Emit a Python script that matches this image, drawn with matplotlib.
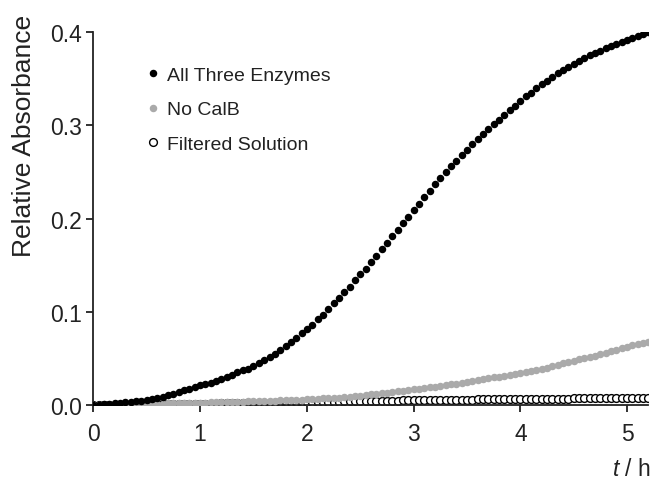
import matplotlib as mpl
mpl.use('Agg')
import matplotlib.pyplot as plt

# sampling times (h), one reading every 3 min
time_h = [
    0.00, 0.05, 0.10, 0.15, 0.20, 0.25, 0.30, 0.35, 0.40, 0.45,
    0.50, 0.55, 0.60, 0.65, 0.70, 0.75, 0.80, 0.85, 0.90, 0.95,
    1.00, 1.05, 1.10, 1.15, 1.20, 1.25, 1.30, 1.35, 1.40, 1.45,
    1.50, 1.55, 1.60, 1.65, 1.70, 1.75, 1.80, 1.85, 1.90, 1.95,
    2.00, 2.05, 2.10, 2.15, 2.20, 2.25, 2.30, 2.35, 2.40, 2.45,
    2.50, 2.55, 2.60, 2.65, 2.70, 2.75, 2.80, 2.85, 2.90, 2.95,
    3.00, 3.05, 3.10, 3.15, 3.20, 3.25, 3.30, 3.35, 3.40, 3.45,
    3.50, 3.55, 3.60, 3.65, 3.70, 3.75, 3.80, 3.85, 3.90, 3.95,
    4.00, 4.05, 4.10, 4.15, 4.20, 4.25, 4.30, 4.35, 4.40, 4.45,
    4.50, 4.55, 4.60, 4.65, 4.70, 4.75, 4.80, 4.85, 4.90, 4.95,
    5.00, 5.05, 5.10, 5.15, 5.20,
]

all_three = [
    0.000, 0.000, 0.001, 0.001, 0.002, 0.002, 0.003, 0.003, 0.004, 0.004,
    0.005, 0.006, 0.008, 0.009, 0.011, 0.012, 0.014, 0.016, 0.017, 0.019,
    0.021, 0.022, 0.024, 0.026, 0.028, 0.030, 0.032, 0.035, 0.037, 0.039,
    0.042, 0.045, 0.048, 0.052, 0.055, 0.059, 0.063, 0.068, 0.072, 0.077,
    0.081, 0.086, 0.092, 0.097, 0.103, 0.109, 0.115, 0.121, 0.127, 0.134,
    0.140, 0.146, 0.153, 0.160, 0.167, 0.174, 0.181, 0.188, 0.195, 0.202,
    0.209, 0.216, 0.223, 0.230, 0.237, 0.244, 0.250, 0.256, 0.262, 0.268,
    0.274, 0.280, 0.285, 0.291, 0.296, 0.301, 0.306, 0.311, 0.316, 0.321,
    0.326, 0.331, 0.335, 0.340, 0.344, 0.348, 0.352, 0.356, 0.359, 0.363,
    0.366, 0.369, 0.372, 0.375, 0.378, 0.380, 0.383, 0.385, 0.387, 0.390,
    0.392, 0.394, 0.396, 0.398, 0.400,
]

no_calb = [
    0.000, 0.000, 0.000, 0.000, 0.000, 0.001, 0.001, 0.001, 0.001, 0.001,
    0.001, 0.001, 0.001, 0.001, 0.002, 0.002, 0.002, 0.002, 0.002, 0.002,
    0.002, 0.002, 0.003, 0.003, 0.003, 0.003, 0.003, 0.003, 0.003, 0.004,
    0.004, 0.004, 0.004, 0.004, 0.004, 0.005, 0.005, 0.005, 0.005, 0.005,
    0.006, 0.006, 0.006, 0.007, 0.007, 0.008, 0.008, 0.009, 0.009, 0.010,
    0.010, 0.011, 0.012, 0.012, 0.013, 0.013, 0.014, 0.015, 0.015, 0.016,
    0.017, 0.017, 0.018, 0.019, 0.019, 0.020, 0.021, 0.022, 0.023, 0.024,
    0.025, 0.026, 0.027, 0.028, 0.029, 0.030, 0.030, 0.031, 0.032, 0.033,
    0.034, 0.035, 0.036, 0.038, 0.039, 0.040, 0.042, 0.043, 0.045, 0.046,
    0.047, 0.049, 0.050, 0.052, 0.053, 0.055, 0.056, 0.058, 0.059, 0.061,
    0.062, 0.064, 0.065, 0.067, 0.068,
]

filtered = [
    0.000, 0.000, 0.000, 0.000, 0.000, 0.000, 0.000, 0.000, 0.000, 0.000,
    0.001, 0.001, 0.001, 0.001, 0.001, 0.001, 0.001, 0.001, 0.001, 0.001,
    0.001, 0.001, 0.001, 0.001, 0.002, 0.002, 0.002, 0.002, 0.002, 0.002,
    0.002, 0.002, 0.002, 0.002, 0.002, 0.003, 0.003, 0.003, 0.003, 0.003,
    0.003, 0.003, 0.003, 0.003, 0.003, 0.003, 0.003, 0.004, 0.004, 0.004,
    0.004, 0.004, 0.004, 0.004, 0.004, 0.004, 0.004, 0.004, 0.005, 0.005,
    0.005, 0.005, 0.005, 0.005, 0.005, 0.005, 0.005, 0.005, 0.005, 0.005,
    0.005, 0.005, 0.006, 0.006, 0.006, 0.006, 0.006, 0.006, 0.006, 0.006,
    0.006, 0.006, 0.006, 0.006, 0.006, 0.006, 0.006, 0.006, 0.006, 0.006,
    0.007, 0.007, 0.007, 0.007, 0.007, 0.007, 0.007, 0.007, 0.007, 0.007,
    0.007, 0.007, 0.007, 0.007, 0.007,
]

labels = ['All Three Enzymes', 'No CalB', 'Filtered Solution']
x_ticks = [0, 1, 2, 3, 4, 5]
y_ticks = [0.0, 0.1, 0.2, 0.3, 0.4]

plt.rcParams['font.family'] = ['Liberation Sans', 'DejaVu Sans']
plt.rcParams['mathtext.fontset'] = 'custom'
plt.rcParams['mathtext.it'] = 'Liberation Sans:italic'
plt.rcParams['mathtext.rm'] = 'Liberation Sans'

ink = '#222222'

fig = plt.figure(figsize=(6.53, 4.81), dpi=100)
ax = fig.add_axes([0.143, 0.156, 0.850, 0.775])

ax.plot(time_h, filtered, 'o', ms=5.6, mfc='white', mec='black', mew=1.0,
        label=labels[2], zorder=2)
ax.plot(time_h, no_calb, 'o', ms=5.4, color='#aaaaaa', mec='none',
        label=labels[1], zorder=3)
ax.plot(time_h, all_three, 'o', ms=5.4, color='black', mec='none',
        label=labels[0], zorder=4)

ax.set_xlim(0, 5.2)
ax.set_ylim(0, 0.4)
ax.set_xticks(x_ticks)
ax.set_yticks(y_ticks)
ax.set_yticklabels([f'{v:.1f}' for v in y_ticks])

for s in ['top', 'right']:
    ax.spines[s].set_visible(False)
for s in ['left', 'bottom']:
    ax.spines[s].set_color(ink)
    ax.spines[s].set_linewidth(1.3)
ax.tick_params(direction='out', length=5, width=1.3, colors=ink,
               labelsize=16.5)
ax.tick_params(axis='x', pad=7.5)
ax.tick_params(axis='y', pad=3.5)
for lab in ax.get_xticklabels() + ax.get_yticklabels():
    lab.set_color(ink)

fig.text(0.036, 0.717, 'Relative Absorbance', rotation=90, fontsize=19,
         color=ink, ha='center', va='center')
fig.text(0.997, 0.024, '$t$ / h', fontsize=16.5, color=ink, ha='right',
         va='center')

handles, labs = ax.get_legend_handles_labels()
order = [2, 1, 0]
ax.legend([handles[i] for i in order], [labs[i] for i in order],
          loc='upper left', bbox_to_anchor=(0.065, 0.955), frameon=False,
          fontsize=14, handlelength=0.6, handletextpad=0.45,
          labelspacing=0.86, labelcolor=ink)

fig.savefig('out.png', dpi=100)
